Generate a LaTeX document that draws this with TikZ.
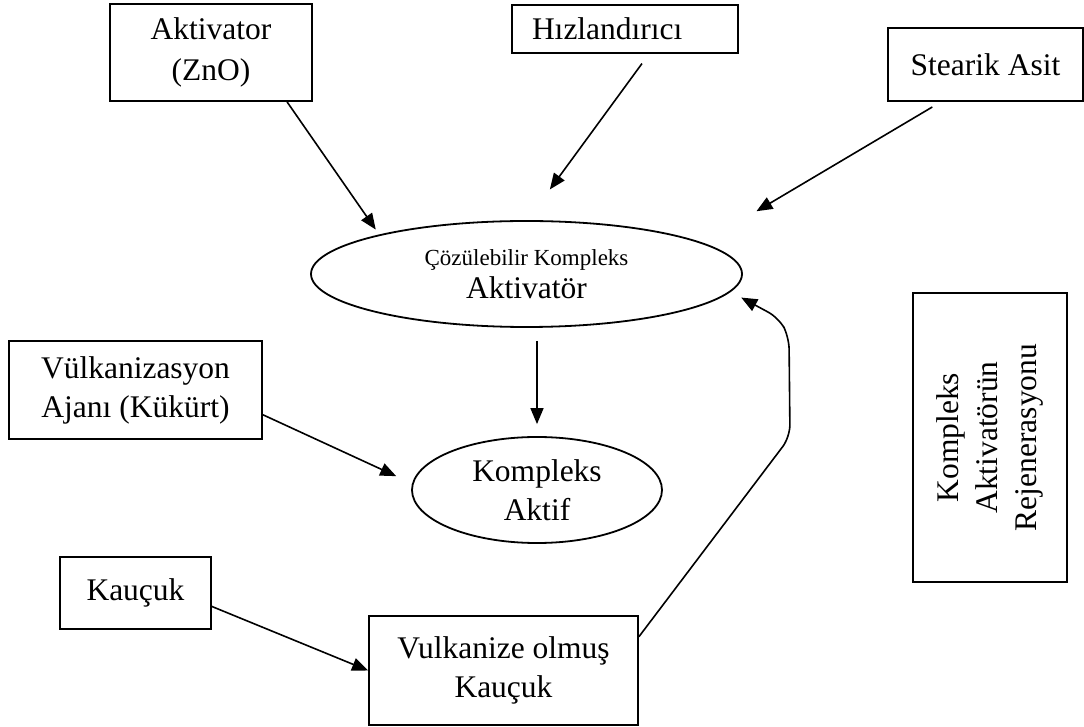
\documentclass[tikz,border=0pt]{standalone}
\usepackage{fontspec}
\setmainfont{Liberation Serif}
\usetikzlibrary{arrows.meta,shapes.geometric}

\begin{document}
\begin{tikzpicture}[x=0.5pt, y=-0.5pt,
  every node/.style = {draw, line width=0.9pt, align=center, inner sep=0pt,
    font=\fontsize{15.75}{19.5}\selectfont},
  box/.style = {rectangle},
  oval/.style = {ellipse},
  flow/.style = {line width=0.8pt, -{Triangle[length=8pt,width=6.5pt]}}]
  \useasboundingbox (0,0) rectangle (1084,727);

  \node[box, minimum width=101pt, minimum height=48.5pt] (aktivator) at (211,52.5) {Aktivator\\[1pt](ZnO)};
  \node[box, text width=93pt, align=left, inner xsep=10pt, minimum height=24pt] (hiz) at (625,29) {Hızlandırıcı};
  \node[box, minimum width=97.5pt, minimum height=36.5pt] (stearik) at (985.5,64.5) {Stearik Asit};
  \node[oval, minimum width=215.5pt, minimum height=53pt] (cozulebilir) at (526.5,274)
    {{\fontsize{11.5}{14}\selectfont Çözülebilir Kompleks}\\[-3pt]Aktivatör};
  \node[oval, minimum width=125pt, minimum height=53pt] (aktif) at (537,490) {Kompleks\\Aktif};
  \node[box, minimum width=126.5pt, minimum height=49pt] (vulk) at (135.5,390) {Vülkanizasyon\\Ajanı (Kükürt)};
  \node[box, minimum width=75.5pt, minimum height=36pt] (kaucuk) at (135.5,593) {Kauçuk};
  \node[box, minimum width=134.5pt, minimum height=54.5pt] (vulkanize) at (503.5,670.5) {Vulkanize olmuş\\Kauçuk};
  \node[box, rotate=90, minimum width=144.5pt, minimum height=77pt] (rejen) at (990,437.5)
    {Kompleks\\Aktivatörün\\Rejenerasyonu};

  \coordinate (r1) at (790,437);
  \coordinate (r2) at (789,337);
  \coordinate (r3) at (779,318);

  \draw[flow, shorten >=3pt] (aktivator.-33) -- (cozulebilir.165);
  \draw[flow, shorten <=6pt, shorten >=19pt] (hiz.-46) -- (cozulebilir.89);
  \draw[flow, shorten <=5pt, shorten >=31pt] (stearik.220) -- (cozulebilir.10);
  \draw[flow, shorten <=6.5pt, shorten >=6pt] (aktif.north |- cozulebilir.south) -- (aktif.north);
  \draw[flow, shorten >=8.7pt] (vulk.-11) -- (aktif.177);
  \draw[flow] (kaucuk.-10) -- (vulkanize.west);
  \draw[flow, rounded corners=6pt, shorten >=6pt] (vulkanize.14) -- (r1) -- (r2) -- (r3) -- (cozulebilir.-5);
\end{tikzpicture}
\end{document}
